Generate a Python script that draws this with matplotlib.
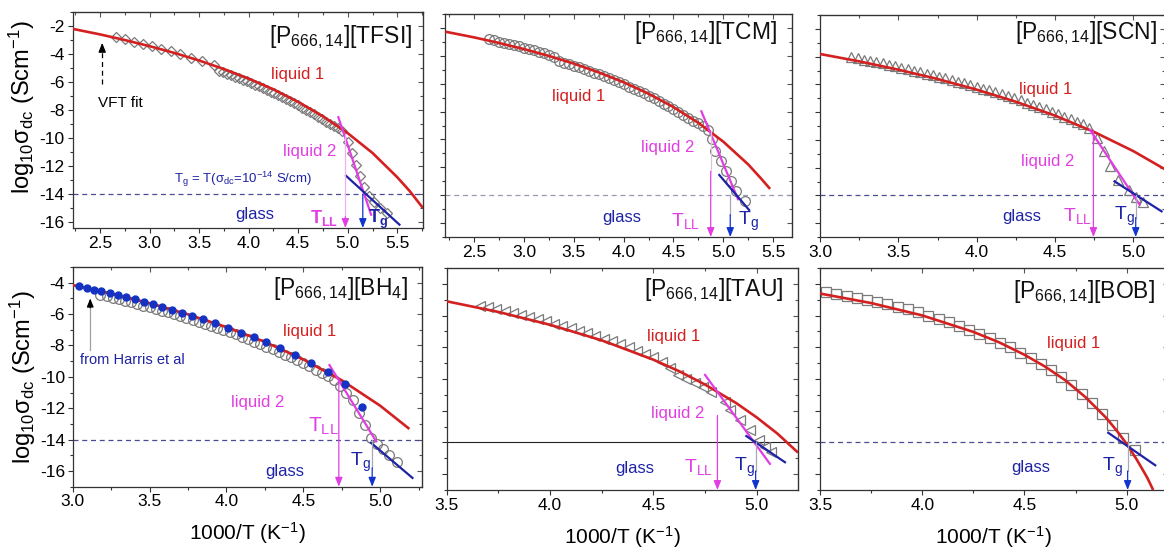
import matplotlib
matplotlib.use("Agg")
import matplotlib.pyplot as plt
from matplotlib.ticker import MultipleLocator, FormatStrFormatter

plt.rcParams['font.family'] = ['Liberation Sans', 'DejaVu Sans']
plt.rcParams['mathtext.fontset'] = 'custom'
plt.rcParams['mathtext.rm'] = 'Liberation Sans'
plt.rcParams['mathtext.it'] = 'Liberation Sans:italic'
plt.rcParams['mathtext.bf'] = 'Liberation Sans:bold'
plt.rcParams['axes.unicode_minus'] = False

RED = '#d42020'
MAG = '#e23de2'
NAVY = '#1e23a6'
ARROW_BLUE = '#1034d0'
GREY = '#7a7a7a'
DOT_BLUE = '#1432c4'

# ---------------- [P666,14][TFSI] ----------------
tfsi_fit_x = [2.22, 2.5, 2.75, 3.0, 3.25, 3.5, 3.75, 4.0, 4.25, 4.5, 4.75, 5.0, 5.25, 5.5, 5.625, 5.76]
tfsi_fit_y = [-2.20, -2.60, -3.00, -3.44, -3.92, -4.46, -5.07, -5.75, -6.52, -7.41, -8.44, -9.64,
              -11.05, -12.78, -13.76, -14.98]
tfsi_x = [2.655, 2.746, 2.84, 2.935, 3.026, 3.117, 3.21, 3.31, 3.42, 3.53, 3.65,
          3.70, 3.74, 3.78, 3.82, 3.86, 3.90, 3.94, 3.98, 4.02, 4.06, 4.10, 4.14, 4.18, 4.22,
          4.26, 4.30, 4.34, 4.38, 4.42, 4.46, 4.50, 4.54, 4.58, 4.62, 4.66, 4.70, 4.74, 4.78,
          4.82, 4.86, 4.90, 4.94,
          5.00, 5.04, 5.08, 5.12, 5.16, 5.21, 5.27, 5.33, 5.40]
tfsi_y = [-2.80, -2.95, -3.11, -3.28, -3.45, -3.62, -3.80, -4.01, -4.25, -4.50, -4.80,
          -5.19, -5.29, -5.39, -5.50, -5.61, -5.72, -5.83, -5.94, -6.06, -6.18, -6.30, -6.42,
          -6.55, -6.67, -6.81, -6.94, -7.08, -7.22, -7.37, -7.51, -7.66, -7.81, -7.97, -8.13,
          -8.30, -8.46, -8.64, -8.82, -9.00, -9.10, -9.28, -9.50,
          -10.25, -11.05, -11.90, -12.70, -13.50, -14.15, -14.55, -14.95, -15.30]
tfsi_liq2_x = [4.905, 5.236]
tfsi_liq2_y = [-8.50, -15.45]
tfsi_glass_x = [4.983, 5.522]
tfsi_glass_y = [-12.68, -16.16]
tfsi_tll = [4.976, -9.7]
tfsi_tg = [5.152, -14.0]

# ---------------- [P666,14][TCM] ----------------
tcm_fit_x = [2.21, 2.5, 2.75, 3.0, 3.25, 3.5, 3.75, 4.0, 4.25, 4.5, 4.75, 5.0, 5.25, 5.375, 5.47]
tcm_fit_y = [-2.27, -2.68, -3.08, -3.52, -4.01, -4.56, -5.19, -5.90, -6.72, -7.68, -8.81, -10.16,
             -11.79, -12.77, -13.55]
tcm_x = [2.65, 2.70, 2.75, 2.80, 2.85, 2.90, 2.95, 3.00, 3.05, 3.10, 3.15, 3.20, 3.25, 3.30,
         3.35, 3.40, 3.45, 3.50, 3.55, 3.60, 3.65, 3.70, 3.75, 3.80, 3.85, 3.90, 3.95, 4.00,
         4.05, 4.10, 4.15, 4.20, 4.25, 4.30, 4.35, 4.40, 4.45, 4.50, 4.55, 4.60, 4.65, 4.70,
         4.75, 4.80, 4.85,
         4.89, 4.92, 4.98, 5.03, 5.08, 5.13, 5.215]
tcm_y = [-2.81, -2.89, -2.98, -3.06, -3.15, -3.24, -3.33, -3.42, -3.51, -3.61, -3.71, -3.81,
         -3.91, -4.07, -4.37, -4.48, -4.59, -4.71, -4.83, -4.95, -5.08, -5.20, -5.34, -5.47,
         -5.61, -5.75, -5.90, -6.05, -6.21, -6.37, -6.53, -6.70, -6.87, -7.05, -7.24, -7.43,
         -7.63, -7.83, -8.04, -8.26, -8.48, -8.71, -8.81, -9.06, -9.32,
         -10.00, -10.84, -11.55, -12.26, -12.98, -13.69, -14.45]
tcm_liq2_x = [4.78, 5.148]
tcm_liq2_y = [-7.98, -14.29]
tcm_glass_x = [4.96, 5.26]
tcm_glass_y = [-12.55, -15.07]
tcm_tll = [4.874, -9.36]
tcm_tg = [5.07, -14.0]

# ---------------- [P666,14][SCN] ----------------
scn_fit_x = [3.0, 3.25, 3.5, 3.75, 4.0, 4.25, 4.5, 4.75, 5.0, 5.2]
scn_fit_y = [-3.81, -4.34, -4.94, -5.61, -6.38, -7.25, -8.25, -9.43, -10.81, -12.11]
scn_x = [3.20, 3.24, 3.28, 3.32, 3.36, 3.40, 3.44, 3.48, 3.52, 3.56, 3.60, 3.64, 3.68, 3.72,
         3.76, 3.80, 3.84, 3.88, 3.92, 3.96, 4.00, 4.04, 4.08, 4.12, 4.16, 4.20, 4.24, 4.28,
         4.32, 4.36, 4.40, 4.44, 4.48, 4.52, 4.56, 4.60, 4.64, 4.68, 4.72,
         4.77, 4.81, 4.85, 4.90, 4.97, 5.02, 5.06]
scn_y = [-4.03, -4.12, -4.21, -4.30, -4.40, -4.49, -4.59, -4.69, -4.79, -4.89, -5.00, -5.11,
         -5.22, -5.33, -5.44, -5.56, -5.68, -5.80, -5.92, -6.05, -6.18, -6.31, -6.44, -6.58,
         -6.72, -6.86, -7.01, -7.16, -7.31, -7.47, -7.63, -7.80, -7.97, -8.14, -8.32, -8.50,
         -8.69, -8.87, -9.12,
         -9.90, -10.80, -11.90, -12.90, -13.60, -14.10, -14.50]
scn_liq2_x = [4.723, 5.04]
scn_liq2_y = [-9.27, -14.67]
scn_glass_x = [4.88, 5.18]
scn_glass_y = [-12.99, -15.15]
scn_tll = [4.745, -9.3]
scn_tg = [5.015, -14.0]

# ---------------- [P666,14][BH4] ----------------
bh4_fit_x = [3.0, 3.25, 3.5, 3.75, 4.0, 4.25, 4.5, 4.75, 5.0, 5.19]
bh4_fit_y = [-4.15, -4.70, -5.31, -6.02, -6.83, -7.77, -8.89, -10.22, -11.84, -13.32]
bh4_x = [3.18, 3.22, 3.26, 3.30, 3.34, 3.38, 3.42, 3.46, 3.50, 3.54, 3.58, 3.62, 3.66, 3.70,
         3.74, 3.78, 3.82, 3.86, 3.90, 3.94, 3.98, 4.02, 4.06, 4.10, 4.14, 4.18, 4.22, 4.26,
         4.30, 4.34, 4.38, 4.42, 4.46, 4.50, 4.54, 4.58, 4.62, 4.66,
         4.70, 4.74, 4.78, 4.82, 4.86, 4.90, 4.94, 4.98, 5.02, 5.06, 5.11]
bh4_y = [-4.79, -4.87, -4.97, -5.06, -5.16, -5.25, -5.36, -5.46, -5.56, -5.67, -5.78, -5.89,
         -6.00, -6.12, -6.24, -6.36, -6.48, -6.61, -6.74, -6.87, -7.01, -7.15, -7.29, -7.44,
         -7.59, -7.75, -7.90, -8.07, -8.23, -8.40, -8.58, -8.76, -8.95, -9.14, -9.33, -9.54,
         -9.74, -9.96,
         -10.20, -10.60, -11.00, -11.50, -12.30, -13.10, -13.90, -14.30, -14.60, -14.95, -15.40]
harris_x = [3.038, 3.092, 3.136, 3.186, 3.24, 3.294, 3.348, 3.402, 3.461, 3.522, 3.582, 3.645,
            3.71, 3.778, 3.847, 3.923, 4.009, 4.096, 4.178, 4.259, 4.35, 4.443, 4.551, 4.659,
            4.768, 4.883]
harris_y = [-4.23, -4.34, -4.44, -4.55, -4.67, -4.80, -4.93, -5.06, -5.21, -5.37, -5.53, -5.71,
            -5.90, -6.10, -6.32, -6.57, -6.86, -7.18, -7.49, -7.81, -8.19, -8.61, -9.14, -9.71,
            -10.48, -11.94]
bh4_liq2_x = [4.67, 4.974]
bh4_liq2_y = [-9.25, -14.11]
bh4_glass_x = [4.94, 5.21]
bh4_glass_y = [-14.2, -16.44]
bh4_tll = [4.731, -10.1]
bh4_tg = [4.948, -14.0]

# ---------------- [P666,14][TAU] ----------------
tau_fit_x = [3.5, 3.75, 4.0, 4.25, 4.5, 4.625, 4.75, 4.9, 5.0, 5.1, 5.2]
tau_fit_y = [-5.10, -5.77, -6.58, -7.56, -8.78, -9.51, -10.35, -11.51, -12.42, -13.44, -14.64]
tau_x = [3.66, 3.70, 3.74, 3.78, 3.82, 3.86, 3.90, 3.94, 3.98, 4.02, 4.06, 4.10, 4.14, 4.18,
         4.22, 4.26, 4.30, 4.34, 4.38, 4.42, 4.46, 4.50, 4.54, 4.58, 4.62, 4.66, 4.70, 4.74,
         4.78,
         4.846, 4.87, 4.92, 4.97, 5.01, 5.04, 5.07]
tau_y = [-5.37, -5.48, -5.59, -5.71, -5.83, -5.96, -6.09, -6.22, -6.35, -6.50, -6.64, -6.80,
         -6.95, -7.11, -7.28, -7.46, -7.63, -7.82, -8.01, -8.21, -8.42, -8.63, -8.95, -9.30,
         -9.72, -9.98, -10.24, -10.52, -10.81,
         -11.43, -11.96, -12.59, -13.22, -13.85, -14.28, -14.59]
tau_liq2_x = [4.75, 5.064]
tau_liq2_y = [-9.74, -15.35]
tau_glass_x = [4.95, 5.137]
tau_glass_y = [-13.6, -15.25]
tau_tll = [4.81, -12.3]
tau_tg = [4.995, -14.0]

# ---------------- [P666,14][BOB] ----------------
bob_fit_x = [3.5, 3.75, 4.0, 4.25, 4.375, 4.5, 4.6, 4.7, 4.8, 4.9, 4.95, 5.0, 5.05, 5.1, 5.13]
bob_fit_y = [-4.61, -5.21, -5.99, -7.03, -7.68, -8.47, -9.21, -10.08, -11.16, -12.45, -13.23,
             -14.09, -15.09, -16.20, -17.0]
bob_x = [3.53, 3.58, 3.63, 3.68, 3.73, 3.78, 3.83, 3.88, 3.93, 3.98, 4.03, 4.08, 4.13, 4.18,
         4.23, 4.28, 4.33, 4.38, 4.43, 4.48, 4.53, 4.58, 4.63, 4.68, 4.73, 4.78, 4.83, 4.88,
         4.93, 4.98, 5.04]
bob_y = [-4.52, -4.64, -4.76, -4.88, -5.01, -5.15, -5.29, -5.45, -5.60, -5.77, -6.00, -6.21,
         -6.43, -6.66, -6.89, -7.15, -7.42, -7.70, -8.00, -8.33, -8.67, -9.06, -9.45, -9.90,
         -10.39, -10.92, -11.53, -12.18, -12.92, -13.74, -14.45]
bob_glass_x = [4.91, 5.14]
bob_glass_y = [-13.39, -15.44]
bob_tg = [5.005, -14.0]

TITLES = ['[P$_\\mathregular{666,14}$][TFSI]', '[P$_\\mathregular{666,14}$][TCM]',
          '[P$_\\mathregular{666,14}$][SCN]', '[P$_\\mathregular{666,14}$][BH$_\\mathregular{4}$]',
          '[P$_\\mathregular{666,14}$][TAU]', '[P$_\\mathregular{666,14}$][BOB]']

W, H = 1164, 550
fig = plt.figure(figsize=(W / 100, H / 100), dpi=100)


def make_axes(left, top, right, bottom):
    return fig.add_axes([left / W, 1 - bottom / H, (right - left) / W, (bottom - top) / H])


def style(ax, xlim, ylim, ylabels):
    ax.set_xlim(*xlim)
    ax.set_ylim(*ylim)
    ax.xaxis.set_major_locator(MultipleLocator(0.5))
    ax.xaxis.set_minor_locator(MultipleLocator(0.25))
    ax.xaxis.set_major_formatter(FormatStrFormatter('%.1f'))
    ax.yaxis.set_major_locator(MultipleLocator(2))
    ax.yaxis.set_minor_locator(MultipleLocator(1))
    ax.tick_params(which='both', direction='out', labelsize=12.5, pad=2,
                   width=0.8, color='#333333', labelleft=ylabels)
    ax.tick_params(which='major', length=3.5)
    ax.tick_params(which='minor', length=2)
    for s in ax.spines.values():
        s.set_color('#333333')
        s.set_linewidth(0.9)
    top = ax.secondary_xaxis('top')
    top.xaxis.set_major_locator(MultipleLocator(0.5))
    top.xaxis.set_minor_locator(MultipleLocator(0.25))
    top.tick_params(which='both', direction='in', labeltop=False, width=0.8, color='#555555')
    top.tick_params(which='major', length=3.5)
    top.tick_params(which='minor', length=2)
    right = ax.secondary_yaxis('right')
    right.yaxis.set_major_locator(MultipleLocator(2))
    right.yaxis.set_minor_locator(MultipleLocator(1))
    right.tick_params(which='both', direction='in', labelright=False, width=0.8, color='#555555')
    right.tick_params(which='major', length=3.5)
    right.tick_params(which='minor', length=2)


def vline_arrow(ax, x, y0, ymid, pale, head):
    ybot = ax.get_ylim()[0]
    if pale is None:
        ymid = y0
    if pale is not None and ymid < y0:
        ax.plot([x, x], [y0, ymid], color=pale, lw=0.9, zorder=5)
    ax.annotate('', xy=(x, ybot), xytext=(x, ymid),
                arrowprops=dict(arrowstyle='-|>,head_length=0.55,head_width=0.22',
                                color=head, lw=0.9, shrinkA=0, shrinkB=0),
                annotation_clip=False, zorder=6)


def title(ax, text, mr, dy):
    ax.annotate(text, xy=(1, 1), xycoords='axes fraction', xytext=(-mr * 0.72, -dy * 0.72),
                textcoords='offset points', ha='right', va='center', fontsize=16.5, color='#111111')


def label(ax, text, x, y, color, size=12, weight='normal'):
    ax.text(x, y, text, color=color, fontsize=size, ha='center', va='center', fontweight=weight,
            zorder=7)


def base(ax, fx, fy, mx, my, marker, ms):
    ax.plot(mx, my, linestyle='none', marker=marker, ms=ms, mfc='none', mec=GREY, mew=0.9, zorder=2)
    ax.plot(fx, fy, color=RED, lw=1.9, zorder=3, solid_capstyle='butt')


TLL = 'T$_\\mathregular{LL}$'
TG = 'T$_\\mathregular{g}$'
YLABEL = 'log$_\\mathregular{10}$σ$_\\mathregular{dc}$ (Scm$^\\mathregular{-1}$)'
XLABEL = '1000/T (K$^\\mathregular{-1}$)'

# ---- panel 1: TFSI
ax1 = make_axes(72.5, 12, 423, 228)
style(ax1, (2.22, 5.76), (-16.4, -1.0), True)
ax1.axhline(-14, color='#4a4a96', lw=0.9, ls=(0, (4, 3)), zorder=1)
base(ax1, tfsi_fit_x, tfsi_fit_y, tfsi_x, tfsi_y, 'D', 5.6)
ax1.plot(tfsi_liq2_x, tfsi_liq2_y, color=MAG, lw=1.6, zorder=4)
ax1.plot(tfsi_glass_x, tfsi_glass_y, color=NAVY, lw=1.6, zorder=4)
vline_arrow(ax1, tfsi_tll[0], tfsi_tll[1], -15.6, '#f2b0f2', MAG)
vline_arrow(ax1, tfsi_tg[0], tfsi_tg[1], tfsi_tg[1], None, ARROW_BLUE)
ax1.plot([2.52, 2.52], [-6.1, -3.7], color='black', lw=0.9, ls=(0, (4, 3)))
ax1.annotate('', xy=(2.52, -3.2), xytext=(2.52, -3.8),
             arrowprops=dict(arrowstyle='-|>,head_length=0.55,head_width=0.22', color='black',
                             lw=0.9, shrinkA=0, shrinkB=0))
label(ax1, 'liquid 1', 4.49, -5.49, RED)
label(ax1, 'liquid 2', 4.62, -10.95, MAG)
label(ax1, 'T$_\\mathregular{g}$ = T(σ$_\\mathregular{dc}$=10$^\\mathregular{-14}$ S/cm)', 3.94, -12.96,
      NAVY, 9.5)
label(ax1, 'glass', 4.06, -15.45, NAVY)
label(ax1, '$\\mathbf{T_{LL}}$', 4.76, -15.67, MAG, 13)
label(ax1, '$\\mathbf{T_{g}}$', 5.31, -15.8, NAVY, 13)
label(ax1, 'VFT fit', 2.70, -7.5, 'black', 11)
title(ax1, TITLES[0], 11, 25)
ax1.set_ylabel(YLABEL, fontsize=17)
ax1.yaxis.set_label_coords(-0.1, 0.56)

# ---- panel 2: TCM
ax2 = make_axes(445, 14, 792, 237)
style(ax2, (2.206, 5.69), (-17, -1), False)
ax2.axhline(-14, color='#9a9ab4', lw=0.9, ls=(0, (4, 3)), zorder=1)
base(ax2, tcm_fit_x, tcm_fit_y, tcm_x, tcm_y, 'o', 7)
ax2.plot(tcm_liq2_x, tcm_liq2_y, color=MAG, lw=1.6, zorder=4)
ax2.plot(tcm_glass_x, tcm_glass_y, color=NAVY, lw=1.6, zorder=4)
vline_arrow(ax2, tcm_tll[0], tcm_tll[1], -12.3, '#d8c8d8', MAG)
vline_arrow(ax2, tcm_tg[0], tcm_tg[1], -15.4, '#a8a8b8', ARROW_BLUE)
label(ax2, 'liquid 1', 3.55, -6.9, RED)
label(ax2, 'liquid 2', 4.44, -10.6, MAG)
label(ax2, 'glass', 3.98, -15.6, NAVY)
label(ax2, TLL, 4.62, -15.84, MAG, 14)
label(ax2, TG, 5.25, -15.9, NAVY, 14)
title(ax2, TITLES[1], 15, 19)

# ---- panel 3: SCN
ax3 = make_axes(820, 15, 1164.7, 237)
style(ax3, (3.0, 5.2), (-17, -1), False)
ax3.axhline(-14, color='#4a4a96', lw=0.9, ls=(0, (4, 3)), zorder=1)
base(ax3, scn_fit_x, scn_fit_y, scn_x, scn_y, '^', 7.5)
ax3.plot(scn_liq2_x, scn_liq2_y, color=MAG, lw=1.6, zorder=4)
ax3.plot(scn_glass_x, scn_glass_y, color=NAVY, lw=1.6, zorder=4)
vline_arrow(ax3, scn_tll[0], scn_tll[1], scn_tll[1], None, MAG)
vline_arrow(ax3, scn_tg[0], scn_tg[1], -15.6, '#a8a8b8', ARROW_BLUE)
label(ax3, 'liquid 1', 4.44, -6.4, RED)
label(ax3, 'liquid 2', 4.45, -11.55, MAG)
label(ax3, 'glass', 4.29, -15.5, NAVY)
label(ax3, TLL, 4.64, -15.5, MAG, 14)
label(ax3, TG, 4.94, -15.5, NAVY, 14)
title(ax3, TITLES[2], 8, 18)

# ---- panel 4: BH4
ax4 = make_axes(72.7, 267, 421.7, 486.7)
style(ax4, (3.0, 5.27), (-17, -3), True)
ax4.axhline(-14, color='#4a4a96', lw=0.9, ls=(0, (4, 3)), zorder=1)
base(ax4, bh4_fit_x, bh4_fit_y, bh4_x, bh4_y, 'o', 7)
ax4.plot(harris_x, harris_y, linestyle='none', marker='o', ms=5, color=DOT_BLUE, zorder=5)
ax4.plot(bh4_liq2_x, bh4_liq2_y, color=MAG, lw=1.6, zorder=4)
ax4.plot(bh4_glass_x, bh4_glass_y, color=NAVY, lw=1.6, zorder=4)
vline_arrow(ax4, bh4_tll[0], bh4_tll[1], bh4_tll[1], None, MAG)
vline_arrow(ax4, bh4_tg[0], bh4_tg[1], -15.8, '#a8a8b8', ARROW_BLUE)
ax4.plot([3.114, 3.114], [-5.6, -8.3], color='#a0a0a0', lw=0.9)
ax4.annotate('', xy=(3.114, -5.0), xytext=(3.114, -5.6),
             arrowprops=dict(arrowstyle='-|>,head_length=0.5,head_width=0.2', color='black',
                             lw=0.9, shrinkA=0, shrinkB=0))
label(ax4, 'liquid 1', 4.54, -7.1, RED)
label(ax4, 'liquid 2', 4.2, -11.66, MAG)
label(ax4, TLL, 4.63, -13.14, MAG, 15)
label(ax4, TG, 4.87, -15.47, NAVY, 14)
label(ax4, 'glass', 4.38, -16.0, NAVY)
label(ax4, 'from Harris et al', 3.39, -8.9, NAVY, 10.5)
title(ax4, TITLES[3], 14, 22)
ax4.set_ylabel(YLABEL, fontsize=17)
ax4.yaxis.set_label_coords(-0.1, 0.5)
ax4.set_xlabel(XLABEL, fontsize=15, labelpad=8)

# ---- panel 5: TAU
ax5 = make_axes(446.7, 268, 798, 490)
style(ax5, (3.5, 5.2), (-17, -3), False)
ax5.axhline(-14, color='#222222', lw=0.8, zorder=1)
base(ax5, tau_fit_x, tau_fit_y, tau_x, tau_y, '<', 7.5)
ax5.plot(tau_liq2_x, tau_liq2_y, color=MAG, lw=1.6, zorder=4)
ax5.plot(tau_glass_x, tau_glass_y, color=NAVY, lw=1.6, zorder=4)
vline_arrow(ax5, tau_tll[0], tau_tll[1], tau_tll[1], None, MAG)
vline_arrow(ax5, tau_tg[0], tau_tg[1], -15.8, '#a8a8b8', ARROW_BLUE)
label(ax5, 'liquid 1', 4.6, -7.32, RED)
label(ax5, 'liquid 2', 4.62, -12.2, MAG)
label(ax5, 'glass', 4.41, -15.65, NAVY)
label(ax5, TLL, 4.72, -15.55, MAG, 14)
label(ax5, TG, 4.94, -15.55, NAVY, 14)
title(ax5, TITLES[4], 15, 22)
ax5.set_xlabel(XLABEL, fontsize=15, labelpad=8)

# ---- panel 6: BOB
ax6 = make_axes(820, 268, 1167.5, 490)
style(ax6, (3.5, 5.2), (-17, -3), False)
ax6.axhline(-14, color='#4a4a96', lw=0.9, ls=(0, (4, 3)), zorder=1)
base(ax6, bob_fit_x, bob_fit_y, bob_x, bob_y, 's', 7)
ax6.plot(bob_glass_x, bob_glass_y, color=NAVY, lw=1.6, zorder=4)
vline_arrow(ax6, bob_tg[0], bob_tg[1], -15.8, '#a8a8b8', ARROW_BLUE)
label(ax6, 'liquid 1', 4.74, -7.73, RED)
label(ax6, 'glass', 4.53, -15.55, NAVY)
label(ax6, TG, 4.93, -15.6, NAVY, 14)
title(ax6, TITLES[5], 12.5, 23.7)
ax6.set_xlabel(XLABEL, fontsize=15, labelpad=8)

fig.savefig('out.png', dpi=100)
